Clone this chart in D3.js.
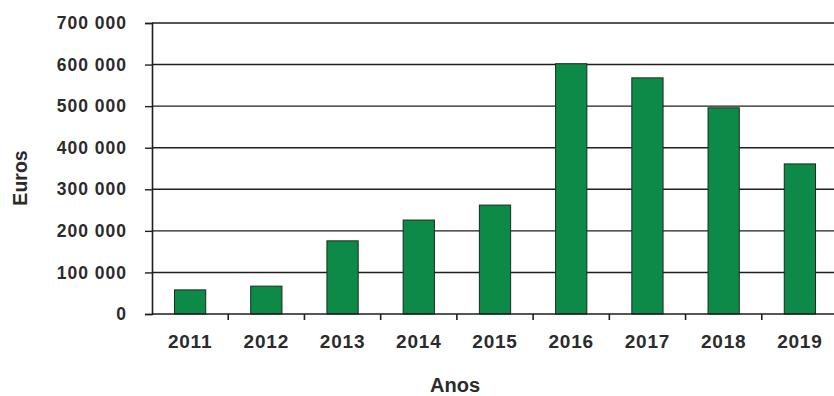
<!DOCTYPE html>
<html>
<head>
<meta charset="utf-8">
<script src="https://cdn.jsdelivr.net/npm/d3@7"></script>
<style>
  html, body { margin: 0; padding: 0; background: #fff; }
  svg { display: block; }
  text { font-family: "Liberation Sans", Arial, sans-serif; font-weight: bold; fill: #2b2b2b; }
</style>
</head>
<body>
<svg id="chart" width="834" height="396"></svg>
<script>
// Annual amounts in euros
const years = ["2011", "2012", "2013", "2014", "2015", "2016", "2017", "2018", "2019"];
const euros = [58000, 67000, 176000, 226000, 262000, 602000, 568000, 496000, 361000];
const yTicks = [0, 100000, 200000, 300000, 400000, 500000, 600000, 700000];
const yTitle = "Euros";
const xTitle = "Anos";

const svg = d3.select("#chart");
const margin = { left: 152, top: 23, right: -4, bottom: 82 };
const W = 834, H = 396;
const plotW = W - margin.left - margin.right;
const plotH = H - margin.top - margin.bottom;

const x = d3.scaleBand().domain(years).range([0, plotW]).paddingInner(0.59).paddingOuter(0.295);
const xEdges = d3.scaleBand().domain(years).range([0, plotW]);
const y = d3.scaleLinear().domain([0, 700000]).range([plotH, 0]);

const g = svg.append("g").attr("transform", `translate(${margin.left},${margin.top})`);

// horizontal gridlines
g.append("g").selectAll("line").data(yTicks.filter(d => d > 0)).join("line")
  .attr("x1", 0).attr("x2", plotW)
  .attr("y1", d => y(d)).attr("y2", d => y(d))
  .attr("stroke", "#1e1e1e").attr("stroke-width", 1.4);

// bars
g.append("g").selectAll("rect").data(years).join("rect")
  .attr("x", d => x(d))
  .attr("width", x.bandwidth())
  .attr("y", (d, i) => y(euros[i]))
  .attr("height", (d, i) => plotH - y(euros[i]))
  .attr("fill", "#0e8a48")
  .attr("stroke", "#1a2a1e").attr("stroke-width", 1);

// y axis
const yAxis = d3.axisLeft(y).tickValues(yTicks).tickSize(7).tickPadding(18)
  .tickFormat(d => d3.format(",")(d).replace(/,/g, " "));
const ya = g.append("g").call(yAxis);
ya.select(".domain").attr("stroke", "#1e1e1e").attr("stroke-width", 1.6);
ya.selectAll(".tick line").attr("stroke", "#1e1e1e").attr("stroke-width", 1.4);
ya.selectAll("text")
  .style("font-size", "17.5px").style("letter-spacing", "1px")
  .attr("fill", "#34383e");

// x axis: ticks at category boundaries
const xa = g.append("g").attr("transform", `translate(0,${plotH})`);
xa.append("line").attr("x1", 0).attr("x2", plotW).attr("y1", 0).attr("y2", 0)
  .attr("stroke", "#1e1e1e").attr("stroke-width", 1.6);
xa.selectAll("line.tk").data(years).join("line").attr("class", "tk")
  .attr("x1", d => xEdges(d) + xEdges.bandwidth()).attr("x2", d => xEdges(d) + xEdges.bandwidth())
  .attr("y1", 0).attr("y2", 6)
  .attr("stroke", "#1e1e1e").attr("stroke-width", 1.6);
xa.selectAll("text").data(years).join("text")
  .attr("x", d => xEdges(d) + xEdges.bandwidth() / 2)
  .attr("y", 34)
  .attr("text-anchor", "middle")
  .style("font-size", "19px").style("letter-spacing", "0.8px")
  .text(d => d);

// axis titles
svg.append("text")
  .attr("transform", `translate(27,178) rotate(-90)`)
  .attr("text-anchor", "middle")
  .style("font-size", "19.5px")
  .text(yTitle);
svg.append("text")
  .attr("x", 455).attr("y", 392)
  .attr("text-anchor", "middle")
  .style("font-size", "20px")
  .text(xTitle);
</script>
</body>
</html>
